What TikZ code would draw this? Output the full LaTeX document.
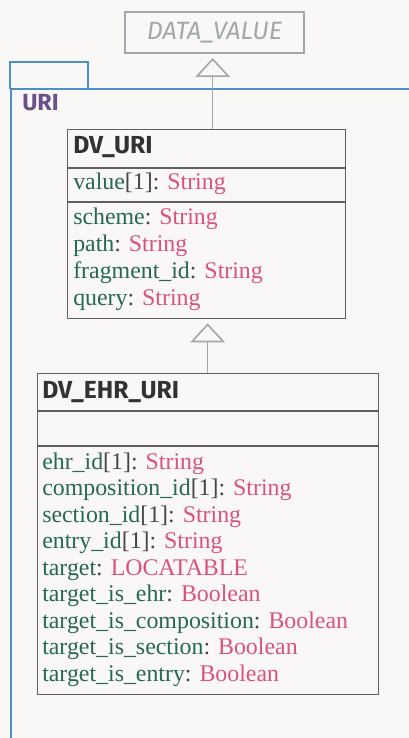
\documentclass[tikz,border=0pt]{standalone}
\usepackage{amsmath}
\usepackage{fontspec}
\usepackage{color}
\usepackage{tikz}
\usetikzlibrary{arrows.meta}
\setmainfont{Liberation Serif}
\newfontfamily\umlsans{Fira Sans}

\definecolor{pagebg}{RGB}{249,248,247}
\definecolor{pkgblue}{RGB}{74,144,205}
\definecolor{pkgpurple}{RGB}{108,80,138}
\definecolor{boxgray}{RGB}{95,95,95}
\definecolor{absgray}{RGB}{160,168,172}
\definecolor{attrgreen}{RGB}{38,105,80}
\definecolor{typepink}{RGB}{218,82,128}
\definecolor{multgray}{RGB}{70,70,70}
\definecolor{headdark}{RGB}{50,50,50}

\newcommand{\umlattr}[3]{\textcolor{attrgreen}{#1}\textcolor{multgray}{#2:} \textcolor{typepink}{#3}}

\tikzset{
  classbox/.style={draw=boxgray, line width=1pt, inner sep=0pt, anchor=north west},
  abstractbox/.style={draw=absgray, line width=1.5pt, inner sep=0pt},
  classname/.style={anchor=base west, inner sep=0pt, text=headdark, font=\umlsans\bfseries\fontsize{18.5}{20}\selectfont},
  attrline/.style={anchor=base west, inner sep=0pt, font=\fontsize{17.9}{20}\selectfont},
  inherit/.style={draw=absgray, line width=1.2pt, -{Triangle[open, length=14.25pt, width=26pt]}, shorten >=3pt}
}

\begin{document}
\begin{tikzpicture}[x=0.75pt,y=0.75pt,yscale=-1,xscale=1]
\useasboundingbox (0,0) rectangle (409,738);
\fill [pagebg] (0,0) rectangle (409,738);

%Shape: Package tab and frame
\draw [pkgblue, line width=1.4pt] (10,89) -- (10,62) -- (88,62) -- (88,89) ;
\draw [pkgblue, line width=1.4pt] (409,89) -- (11,89) -- (11,738) ;
% Text Node
\node [anchor=base west, inner sep=0pt, text=pkgpurple, font=\umlsans\bfseries\fontsize{17.5}{20}\selectfont] (pkglabel) at (22,111) {URI};

%Shape: Abstract class
\node [abstractbox, minimum width=134.25pt, minimum height=30.75pt, text=absgray, font=\umlsans\itshape\fontsize{18.8}{20}\selectfont] (datavalue) at (214.5,32.5) {DATA\_VALUE};

%Shape: DV_URI class
\node [classbox, minimum width=208.5pt, minimum height=141.75pt] (dvuri) at (67,129) {};
\draw [boxgray, line width=1pt] (67,168) -- (345,168) ;
\draw [boxgray, line width=1pt] (67,202) -- (345,202) ;
% Text Node
\node [classname] (dvuriname) at (73,154) {DV\_URI};
% Text Node
\node [attrline] (dvurivalue) at (73,190) {\umlattr{value}{[1]}{String}};
% Text Node
\node [attrline] (dvurischeme) at (73,224) {\umlattr{scheme}{}{String}};
% Text Node
\node [attrline] (dvuripath) at (73,251) {\umlattr{path}{}{String}};
% Text Node
\node [attrline] (dvurifragment) at (73,278) {\umlattr{fragment\_id}{}{String}};
% Text Node
\node [attrline] (dvuriquery) at (73,305) {\umlattr{query}{}{String}};

%Shape: DV_EHR_URI class
\node [classbox, minimum width=255.75pt, minimum height=240.75pt] (ehruri) at (37,373) {};
\draw [boxgray, line width=1pt] (37,411) -- (378,411) ;
\draw [boxgray, line width=1pt] (37,446) -- (378,446) ;
% Text Node
\node [classname] (ehruriname) at (42,398) {DV\_EHR\_URI};
% Text Node
\node [attrline] (ehrid) at (42,469) {\umlattr{ehr\_id}{[1]}{String}};
% Text Node
\node [attrline] (compositionid) at (42,495.5) {\umlattr{composition\_id}{[1]}{String}};
% Text Node
\node [attrline] (sectionid) at (42,522) {\umlattr{section\_id}{[1]}{String}};
% Text Node
\node [attrline] (entryid) at (42,548.5) {\umlattr{entry\_id}{[1]}{String}};
% Text Node
\node [attrline] (target) at (42,575) {\umlattr{target}{}{LOCATABLE}};
% Text Node
\node [attrline] (isehr) at (42,601.5) {\umlattr{target\_is\_ehr}{}{Boolean}};
% Text Node
\node [attrline] (iscomposition) at (42,628) {\umlattr{target\_is\_composition}{}{Boolean}};
% Text Node
\node [attrline] (issection) at (42,654.5) {\umlattr{target\_is\_section}{}{Boolean}};
% Text Node
\node [attrline] (isentry) at (42,681) {\umlattr{target\_is\_entry}{}{Boolean}};

%Straight Lines: generalisation
\draw [inherit] ([xshift=4.5pt]dvuri.north) -- ([xshift=4.5pt]dvuri.north |- datavalue.south) ;
\draw [inherit] ([xshift=-0.4pt]ehruri.north) -- ([xshift=-0.4pt]ehruri.north |- dvuri.south) ;

\end{tikzpicture}
\end{document}
